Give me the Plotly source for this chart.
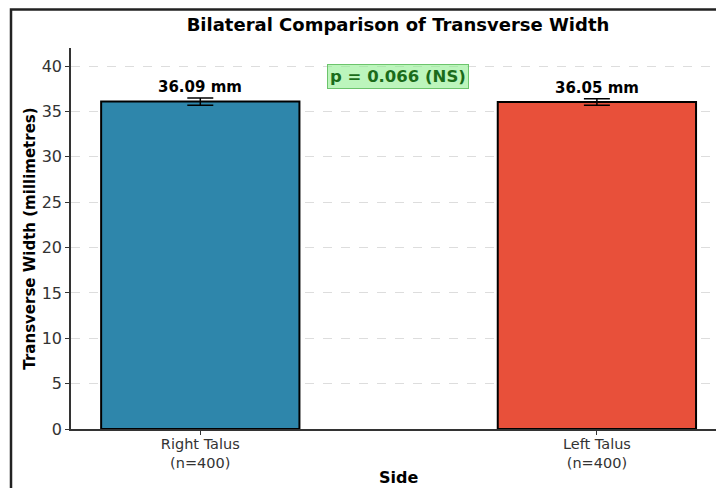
import plotly.graph_objects as go

categories = ["Right Talus<br>(n=400)", "Left Talus<br>(n=400)"]
means = [36.09, 36.05]
errors = [0.4, 0.35]
value_labels = ["36.09 mm", "36.05 mm"]
colors = ["#2E86AB", "#E8503A"]
p_text = "p = 0.066 (NS)"
y_ticks = [0, 5, 10, 15, 20, 25, 30, 35, 40]

xpos = list(range(len(categories)))

W, H = 724, 488
ML, MT, MR, MB = 63, 40, 7, 67

fig = go.Figure()
fig.add_trace(go.Bar(
    x=xpos, y=means, width=0.5,
    marker=dict(color=colors, line=dict(color="black", width=2)),
    error_y=dict(type="data", array=errors, visible=True, color="black",
                 thickness=1.5, width=13),
    showlegend=False,
))

for xi, m, e, lab in zip(xpos, means, errors, value_labels):
    fig.add_annotation(x=xi, y=m + e, text="<b>" + lab + "</b>", showarrow=False,
                       yanchor="bottom", yshift=0,
                       font=dict(family="DejaVu Sans", size=15, color="black"))

fig.add_annotation(xref="paper", x=0.5, y=38.9, text="<b>" + p_text + "</b>",
                   showarrow=False, font=dict(family="DejaVu Sans", size=16.5, color="#1a6b1a"),
                   bgcolor="rgba(144,238,144,0.6)", bordercolor="#6cc46c",
                   borderwidth=1, borderpad=2)

# x-axis title placed as annotation to control its exact position
fig.add_annotation(xref="paper", yref="paper", x=0.5, y=-(477 - 8 - (H - MB - 8 + 8 - 8) + 0) / 1,
                   text="", showarrow=False, visible=False)

# figure frame (left edge ~3px, top edge ~1.5px inside the figure)
pw = W - ML - MR
ph = H - MT - MB
fig.add_shape(type="rect", xref="paper", yref="paper",
              x0=(3 - ML) / pw, x1=1.1, y0=-0.3, y1=1 + (MT - 1.5) / ph,
              line=dict(color="#222222", width=2.5), fillcolor="rgba(0,0,0,0)", layer="above")

# "Side" title: centre ~48px below the x axis line
fig.add_annotation(xref="paper", yref="paper", x=0.5, y=-48 / ph, yanchor="middle",
                   text="<b>Side</b>", showarrow=False,
                   font=dict(family="DejaVu Sans", size=16, color="black"))

fig.update_layout(
    width=W, height=H,
    margin=dict(l=ML, r=MR, t=MT, b=MB, autoexpand=False),
    paper_bgcolor="white", plot_bgcolor="white",
    font=dict(family="DejaVu Sans", size=15, color="#333333"),
    title=dict(text="<b>Bilateral Comparison of Transverse Width</b>",
               x=0.5, xref="paper", xanchor="center", y=1 - 17 / H, yref="container",
               yanchor="middle",
               font=dict(family="DejaVu Sans", size=18, color="black")),
    xaxis=dict(range=[-0.326, 1.323], tickvals=xpos, ticktext=categories,
               showgrid=False, showline=True, linecolor="#333333", linewidth=1.5,
               ticks="outside", ticklen=4, tickcolor="#333333", zeroline=False,
               automargin=False, ticklabelstandoff=-3,
               tickfont=dict(size=14.5, color="#333333")),
    yaxis=dict(range=[0, 42], tickvals=y_ticks, showgrid=True, gridcolor="#dddddd",
               griddash="dash", gridwidth=1, showline=True, linecolor="#333333",
               linewidth=1.5, ticks="outside", ticklen=4, tickcolor="#333333",
               zeroline=False, automargin=False, tickfont=dict(size=16, color="#333333"),
               title=dict(text="<b>Transverse Width (millimetres)</b>",
                          font=dict(size=15, color="black"), standoff=2)),
)

fig.write_html("out.html")
